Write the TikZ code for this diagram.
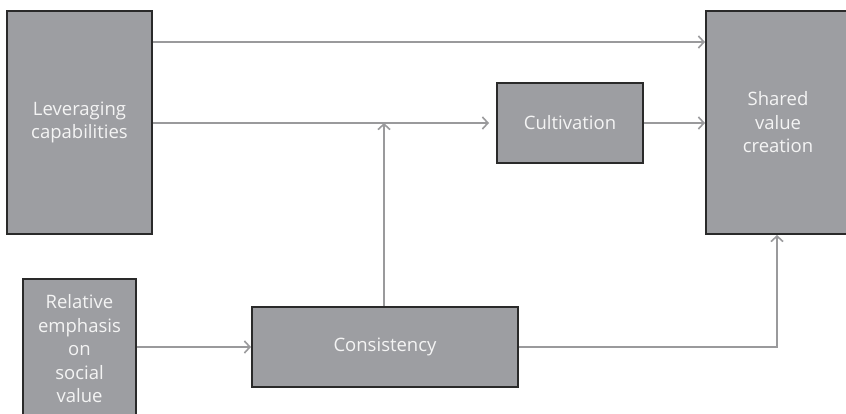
\documentclass[tikz,border=0pt]{standalone}
\usepackage{fontspec}
\setmainfont{Open Sans}
\usetikzlibrary{arrows.meta}
\definecolor{boxfill}{HTML}{9D9EA2}
\definecolor{boxline}{HTML}{2A2A2A}
\definecolor{arrowcol}{HTML}{9A9A9C}
\definecolor{txtcol}{HTML}{F4F4F4}
\begin{document}
\begin{tikzpicture}[x=1pt,y=-1pt,
  box/.style={draw=boxline, line width=2pt, fill=boxfill, inner sep=0pt,
    anchor=north west, align=center, text=txtcol,
    font=\fontsize{18.5}{23.5}\selectfont},
  conn/.style={draw=arrowcol, line width=1.8pt,
    -{Straight Barb[length=5.5pt,width=12pt,line width=1.6pt]}}]
\clip (0,0) rectangle (846,414);
\fill[white] (0,0) rectangle (846,414);
\node[box, minimum width=145pt, minimum height=223pt] (lev) at (6,10) {Leveraging\\capabilities};
\node[box, minimum width=113pt, minimum height=140pt] (rel) at (22,278) {Relative\\emphasis\\on\\social\\value};
\node[box, minimum width=266pt, minimum height=80pt] (con) at (251,306) {Consistency};
\node[box, minimum width=146pt, minimum height=80pt] (cul) at (496,82) {Cultivation};
\node[box, minimum width=144pt, minimum height=223pt] (sha) at (705,10) {Shared\\value\\creation};
\coordinate (j) at (384,122);
\coordinate (k) at (777,347);
\draw[conn] (lev.east |- 0,42) -- (sha.west |- 0,42);
\draw[conn, shorten >=7pt] (lev.east |- cul.west) -- (cul.west);
\draw[conn] (cul.east) -- (sha.west |- cul.east);
\draw[conn] (con.north -| j) -- ([yshift=-1pt]j);
\draw[conn] (rel.east |- con.west) -- (con.west);
\draw[conn] (con.east) -- (k) -- (sha.south -| k);
\end{tikzpicture}
\end{document}
